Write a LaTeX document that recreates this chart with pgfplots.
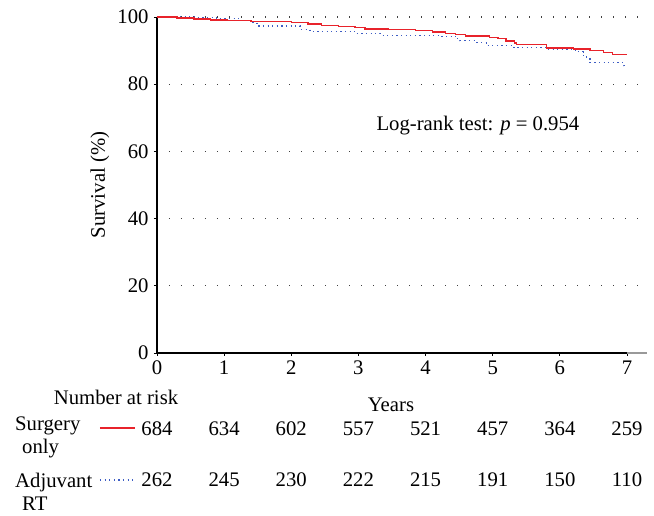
\documentclass[border=0pt]{standalone}
\usepackage{fontspec}
\setmainfont{Liberation Serif}
\usepackage{pgfplots}
\pgfplotsset{compat=1.18}

\definecolor{kmred}{HTML}{E8232B}
\definecolor{kmblue}{HTML}{3C5CC4}

\newcommand{\fs}{\fontsize{20.8}{24}\selectfont}
\tikzset{risk/.style={font=\fs, anchor=base, inner sep=0}}

\begin{document}
\begin{tikzpicture}
\begin{axis}[
  scale only axis,
  width=481.4bp, height=336bp,
  xmin=0, xmax=7.17, ymin=0, ymax=100,
  axis lines*=left,
  x axis line style={opacity=0},
  y axis line style={line width=1.1bp},
  clip=false,
  xtick={0,1,...,7},
  ytick={20,40,...,100},
  extra y ticks={0},
  extra y tick style={grid=none},
  tick align=outside,
  major tick length=3bp,
  every tick/.style={black, line width=0.8bp},
  ymajorgrids,
  major grid style={black!75, line width=1.1bp, dash pattern=on 1.1bp off 10.9bp},
  /pgf/number format/assume math mode=true,
  tick label style={font=\fs},
  xticklabel style={yshift=-1bp},
  yticklabel style={xshift=-2bp},
]
  % survival curves (Kaplan-Meier, step functions)
  \addplot[kmblue, line width=1.2bp, dash pattern=on 1.2bp off 3.4bp, const plot] coordinates {
    (0,100) (0.55,99.8) (0.89,99.5) (1.24,99.0) (1.43,98.3) (1.49,97.3)
    (2.13,96.3) (2.28,95.7) (2.97,95.1) (3.32,94.6) (4.22,94.3) (4.45,93.5)
    (4.51,92.9) (4.76,92.4) (4.91,91.6) (5.31,90.9) (5.80,90.4) (6.23,89.7)
    (6.35,88.6) (6.40,87.6) (6.45,86.4) (6.95,85.5) (7.00,85.5)
  };
  \addplot[kmred, line width=1.3bp, const plot] coordinates {
    (0,100) (0.30,99.7) (0.55,99.4) (0.80,99.1) (1.05,98.9) (1.40,98.6)
    (2.00,98.3) (2.25,97.9) (2.45,97.5) (2.70,97.1) (2.95,96.8) (3.10,96.4)
    (3.45,96.2) (3.85,95.9) (4.10,95.5) (4.30,95.0) (4.45,94.7) (4.60,94.3)
    (4.95,94.0) (5.08,93.5) (5.20,92.9) (5.32,92.3) (5.35,91.9) (5.80,90.8)
    (6.20,90.5) (6.45,90.0) (6.65,89.4) (6.78,88.8) (7.00,88.8)
  };

  % x axis line
  \draw[color=black, line width=1.1bp] (axis cs:0,0) -- (axis cs:7,0);
  \draw[color=black!40, line width=1.1bp] (axis cs:7,0) -- (axis cs:7.3,0);

  % labels
  \node[font=\fs, rotate=90] at (axis cs:-0.85,50) {Survival (\%)};
  \node[font=\fs] at (axis cs:4.78,67.6) {Log-rank test: \textit{p}~=~0.954};
  \node[font=\fs, anchor=base] at (axis cs:3.485,-17.3) {Years};
  \node[font=\fs, anchor=base] at (axis cs:-0.61,-15.2) {Number at risk};

  % number-at-risk table
  \node[font=\fs, anchor=base west, inner sep=0] at (axis cs:-2.115,-23.2) {Surgery};
  \node[font=\fs, anchor=base west, inner sep=0] at (axis cs:-2.01,-29.8) {only};
  \node[font=\fs, anchor=base west, inner sep=0] at (axis cs:-2.115,-39.9) {Adjuvant};
  \node[font=\fs, anchor=base west, inner sep=0] at (axis cs:-2.01,-47.0) {RT};
  \draw[color=kmred, line width=1.3bp] (axis cs:-0.849,-22.3) -- (axis cs:-0.328,-22.3);
  \draw[color=kmblue, line width=1.2bp, dash pattern=on 1.2bp off 3.4bp] (axis cs:-0.849,-37.8) -- (axis cs:-0.328,-37.8);

  \node[risk] at (axis cs:0,-24.7) {684};
  \node[risk] at (axis cs:1,-24.7) {634};
  \node[risk] at (axis cs:2,-24.7) {602};
  \node[risk] at (axis cs:3,-24.7) {557};
  \node[risk] at (axis cs:4,-24.7) {521};
  \node[risk] at (axis cs:5,-24.7) {457};
  \node[risk] at (axis cs:6,-24.7) {364};
  \node[risk] at (axis cs:7,-24.7) {259};

  \node[risk] at (axis cs:0,-39.6) {262};
  \node[risk] at (axis cs:1,-39.6) {245};
  \node[risk] at (axis cs:2,-39.6) {230};
  \node[risk] at (axis cs:3,-39.6) {222};
  \node[risk] at (axis cs:4,-39.6) {215};
  \node[risk] at (axis cs:5,-39.6) {191};
  \node[risk] at (axis cs:6,-39.6) {150};
  \node[risk] at (axis cs:7,-39.6) {110};

  \coordinate (bbl) at (axis cs:-2.3384,-48.51);
  \coordinate (btr) at (axis cs:7.4024,105.06);
\end{axis}
\pgfresetboundingbox
\path[use as bounding box] (bbl) rectangle (btr);
\end{tikzpicture}
\end{document}
